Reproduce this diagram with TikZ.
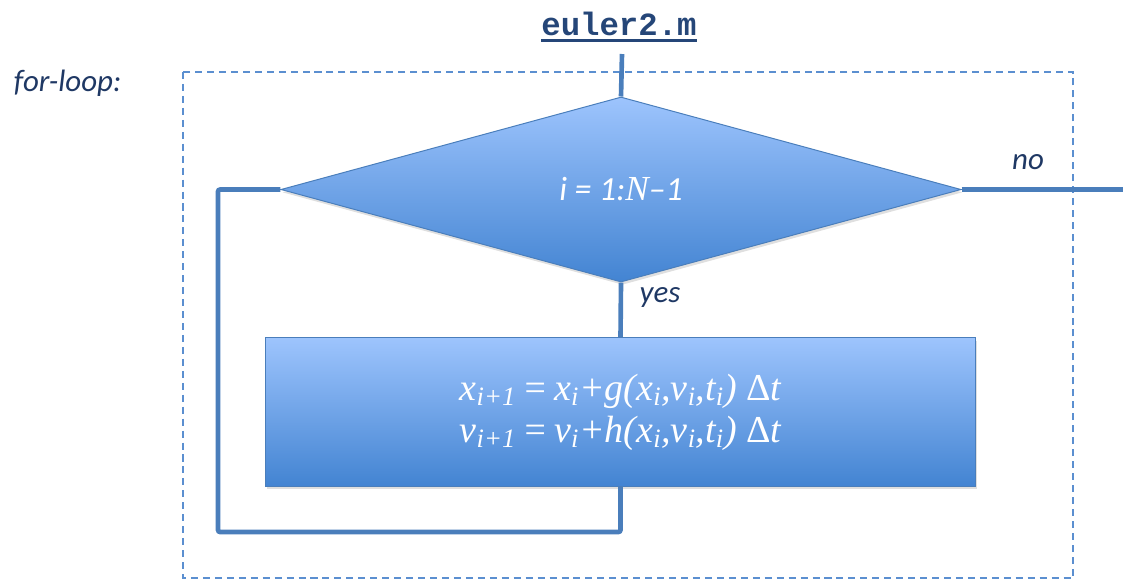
\documentclass[tikz,border=0pt]{standalone}
\usepackage{fontspec}
\setmainfont{Liberation Serif}
\newfontfamily\calfont{Carlito}
\newfontfamily\codefont{Liberation Mono}
\usetikzlibrary{shapes.geometric, shadows}
\definecolor{figblue}{RGB}{74,126,187}
\definecolor{figdash}{RGB}{91,143,208}
\definecolor{figtop}{RGB}{157,196,253}
\definecolor{figbot}{RGB}{67,132,210}
\definecolor{fignavy}{RGB}{31,56,100}
\definecolor{figtitle}{RGB}{37,70,120}
\tikzset{
  flow/.style={draw=figblue, line width=3.3pt, rounded corners=1.5pt},
  lbl/.style={font=\calfont\itshape\fontsize{22}{26}\selectfont, text=fignavy},
  cond/.style={diamond, draw=figblue, line width=0.7pt,
               top color=figtop, bottom color=figbot,
               minimum width=17cm, minimum height=4.625cm, aspect=3.68,
               inner sep=0pt, text=white,
               drop shadow={shadow xshift=1pt, shadow yshift=-2pt, opacity=0.25}},
  proc/.style={rectangle, draw=figblue, line width=0.7pt,
               top color=figtop, bottom color=figbot,
               minimum width=17.725cm, minimum height=3.7cm, align=center,
               text=white, font=\itshape\fontsize{27}{30}\selectfont,
               drop shadow={shadow xshift=1pt, shadow yshift=-2pt, opacity=0.25}},
}

\begin{document}
\begin{tikzpicture}[x=0.025cm, y=-0.025cm]
  \useasboundingbox (0,0) rectangle (1123,581);

  % ─── title and loop frame ──────────────────────────────
  \node[font=\codefont\bfseries\fontsize{23}{26}\selectfont, text=figtitle,
        inner xsep=0pt, inner ysep=3pt] (title) at (619,24) {euler2.m};
  \draw[figtitle, line width=2pt] (title.south west) -- (title.south east);

  \node[lbl, anchor=west] (forloop) at (9,83) {for-loop:};
  \draw[figdash, line width=1.4pt, dash pattern=on 5pt off 3.5pt]
    (183,72) rectangle (1073,578);

  % ─── loop test ─────────────────────────────────────────
  \coordinate (entry) at (622,54);
  \node[cond] (test) at (621,189.5)
    {{\calfont\itshape\fontsize{24}{28}\selectfont i = 1:}{\itshape\fontsize{25}{28}\selectfont N}{\calfont\itshape\fontsize{24}{28}\selectfont –1}};
  \draw[flow] (entry) -- (test.north);

  \coordinate (exit) at (1123,189.5);
  \draw[flow] (test.east) -- (exit);
  \node[lbl] (no) at (1028,162) {no};

  % ─── Euler step ────────────────────────────────────────
  \node[proc] (step1) at (620.5,412)
    {x\textsubscript{i+1}\,=\,x\textsubscript{i}+g(x\textsubscript{i},v\textsubscript{i},t\textsubscript{i}) {\upshape Δ}t\\
     v\textsubscript{i+1}\,=\,v\textsubscript{i}+h(x\textsubscript{i},v\textsubscript{i},t\textsubscript{i}) {\upshape Δ}t};
  \draw[flow] (test.south) -- (step1.north);
  \node[lbl] (yes) at (660,297) {yes};

  % back to the test
  \coordinate (loopbot) at (218,532);
  \draw[flow] (step1.south) |- (loopbot) |- (test.west);

\end{tikzpicture}
\end{document}
